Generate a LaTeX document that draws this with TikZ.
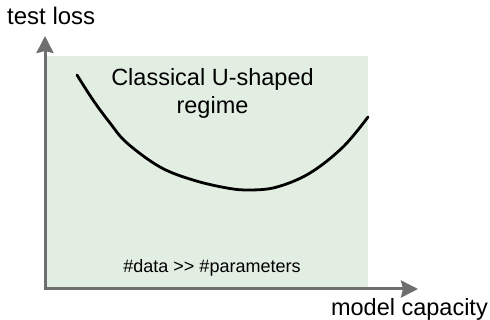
\documentclass[tikz,border=0pt]{standalone}
\usepackage{fontspec}
\setmainfont{Liberation Sans}
\usetikzlibrary{arrows.meta}
\definecolor{regimegreen}{HTML}{E3EEE3}
\definecolor{axisgray}{HTML}{6E6E6E}
\tikzset{
  axis/.style={draw=axisgray, line width=3pt, -{Stealth[length=17pt,width=17pt,inset=2pt]}},
  bigtext/.style={font=\fontsize{23.5}{28}\selectfont, inner sep=0pt},
  smalltext/.style={font=\fontsize{18}{21}\selectfont, inner sep=0pt},
}
\begin{document}
\begin{tikzpicture}[x=1pt,y=-1pt]
\useasboundingbox (0,0) rectangle (490,320);
\fill[regimegreen] (46,56) rectangle (368,289);
\coordinate (o) at (45,290);
\coordinate (ytip) at (45,36);
\coordinate (xtip) at (418,289);
\draw[axis] (o) -- (ytip);
\draw[axis] (45,289) -- (xtip);
\draw[line width=2.8pt, line cap=round] plot[smooth, tension=0.6] coordinates {(77,75) (93,100) (110,123) (127,143) (160,167) (193,180) (227,188) (250,190) (277,187) (310,173) (343,147) (368,117)};
\node[font=\fontsize{24}{28}\selectfont, inner sep=0pt, anchor=base west] (ylabel) at (7,25) {test loss};
\node[bigtext, anchor=east] (xlabel) at (488,309) {model capacity};
\node[bigtext, align=center, anchor=base] (regime) at (212.5,114) {Classical U-shaped\\regime};
\node[smalltext] (cond) at (212,268) {\#data {>}{>} \#parameters};
\end{tikzpicture}
\end{document}
